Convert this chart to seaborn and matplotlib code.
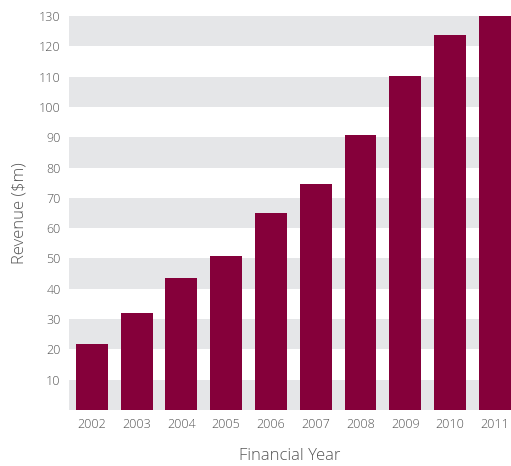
import matplotlib
matplotlib.use("Agg")
import matplotlib.pyplot as plt
import seaborn as sns
import pandas as pd

years = ["2002", "2003", "2004", "2005", "2006", "2007", "2008", "2009", "2010", "2011"]
revenue = [21.8, 32.0, 43.5, 50.7, 65.0, 74.6, 90.7, 110.2, 123.7, 130.0]
y_ticks = [10, 20, 30, 40, 50, 60, 70, 80, 90, 100, 110, 120, 130]

sns.set_theme(style="white")
plt.rcParams['font.family'] = ['Open Sans', 'DejaVu Sans']

df = pd.DataFrame({"Financial Year": years, "Revenue": revenue})

fig = plt.figure(figsize=(5.11, 4.66), dpi=100)
ax = fig.add_axes([0.135, 0.1202, 0.865, 0.8455])

for lo in range(0, 130, 20):
    ax.axhspan(lo, lo + 10, color="#E5E6E8", zorder=0, lw=0)

sns.barplot(data=df, x="Financial Year", y="Revenue", color="#85003A",
            saturation=1, width=0.71, ax=ax, zorder=2, linewidth=0, edgecolor="none")

ax.set_ylim(0, 130)
ax.set_xlim(-0.51, 9.36)
ax.set_yticks(y_ticks)
ax.set_yticklabels([str(t) for t in y_ticks])
for s in ax.spines.values():
    s.set_visible(False)
ax.tick_params(axis="both", length=0, labelsize=9, labelcolor="#555555")
ax.tick_params(axis="x", pad=6)
ax.tick_params(axis="y", pad=6)
ax.set_xlabel("Financial Year", fontsize=12, color="#555555", labelpad=12, fontweight="light")
ax.set_ylabel("Revenue ($m)", fontsize=12, color="#555555", labelpad=8, fontweight="light")
for lab in ax.get_xticklabels() + ax.get_yticklabels():
    lab.set_fontweight("light")

fig.savefig("out.png", dpi=100)
